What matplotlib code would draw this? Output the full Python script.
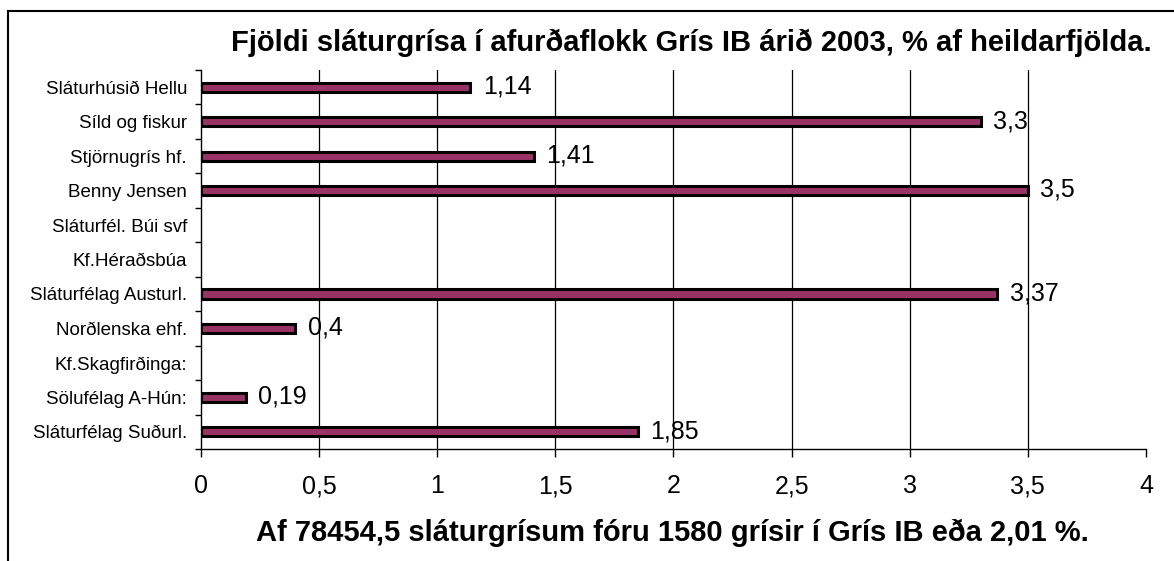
import matplotlib
matplotlib.use('Agg')
import matplotlib.pyplot as plt
from matplotlib.lines import Line2D

plt.rcParams['font.family'] = ['Liberation Sans', 'DejaVu Sans']

# categories listed bottom to top (as drawn on the y axis)
companies = ['Sláturfélag Suðurl.', 'Sölufélag A-Hún:', 'Kf.Skagfirðinga:',
             'Norðlenska ehf.', 'Sláturfélag Austurl.', 'Kf.Héraðsbúa',
             'Sláturfél. Búi svf', 'Benny Jensen', 'Stjörnugrís hf.',
             'Síld og fiskur', 'Sláturhúsið Hellu']
percent = [1.85, 0.19, None, 0.40, 3.37, None, None, 3.50, 1.41, 3.30, 1.14]
value_labels = ['1,85', '0,19', '', '0,4', '3,37', '', '', '3,5', '1,41', '3,3', '1,14']
xticks = [0, 0.5, 1, 1.5, 2, 2.5, 3, 3.5, 4]
xtick_labels = ['0', '0,5', '1', '1,5', '2', '2,5', '3', '3,5', '4']

title = 'Fjöldi sláturgrísa í afurðaflokk Grís IB árið 2003, % af heildarfjölda.'
footer = 'Af 78454,5 sláturgrísum fóru 1580 grísir í Grís IB eða 2,01 %.'

fig = plt.figure(figsize=(11.74, 5.61), dpi=100)
ax = fig.add_axes([0.1712, 0.1996, 0.8049, 0.6756])

ypos = list(range(len(companies)))
for y, v, lab in zip(ypos, percent, value_labels):
    if v is None:
        continue
    ax.barh(y, v, height=0.27, color='#993366', edgecolor='black',
            linewidth=2.2, zorder=3)
    ax.annotate(lab, xy=(v, y), xytext=(9, 0.5), textcoords='offset points',
                va='center', ha='left', fontsize=18, zorder=4)

ax.set_xlim(0, 4)
ax.set_ylim(-0.5, len(companies) - 0.5)
ax.set_xticks(xticks)
ax.set_xticklabels(xtick_labels, fontsize=18)
ax.set_yticks(ypos)
ax.set_yticklabels(companies, fontsize=13.5)
ax.set_yticks([i - 0.5 for i in range(len(companies) + 1)], minor=True)

ax.tick_params(axis='y', which='major', length=0, pad=10)
ax.tick_params(axis='y', which='minor', length=4, width=1, color='black')
ax.tick_params(axis='x', length=6, width=1, pad=12, color='black')

for xv in xticks[1:-1]:
    ax.axvline(xv, color='black', linewidth=0.9, zorder=1)

for s in ['top', 'right']:
    ax.spines[s].set_visible(False)
for s in ['left', 'bottom']:
    ax.spines[s].set_linewidth(1.0)
    ax.spines[s].set_color('black')

fig.text(0.589, 0.923, title, ha='center', va='center', fontsize=21,
         fontweight='bold')
fig.text(0.573, 0.05, footer, ha='center', va='center', fontsize=21,
         fontweight='bold')

# chart frame (only top and left edges are visible in the crop)
fig.add_artist(Line2D([8 / 1174, 1], [1 - 11 / 561, 1 - 11 / 561],
                      transform=fig.transFigure, color='black', linewidth=1.5))
fig.add_artist(Line2D([8 / 1174, 8 / 1174], [0, 1 - 11 / 561],
                      transform=fig.transFigure, color='black', linewidth=1.5))

fig.savefig('out.png', dpi=100)
